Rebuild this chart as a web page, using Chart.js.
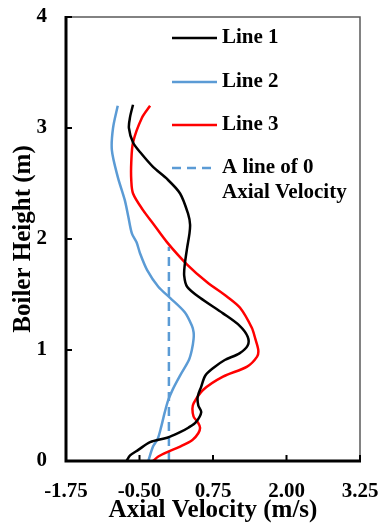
<!DOCTYPE html>
<html>
<head>
<meta charset="utf-8">
<script src="https://cdn.jsdelivr.net/npm/chart.js@4/dist/chart.umd.min.js"></script>
<style>
  html, body { margin: 0; padding: 0; background: #fff; }
</style>
</head>
<body>
<canvas id="velocityChart" width="378" height="527"></canvas>
<script>
// Axial velocity profiles along the boiler height
const xTicks = [-1.75, -0.5, 0.75, 2.0, 3.25];
const yTicks = [0, 1, 2, 3, 4];

const line1Height = [0.00, 0.05, 0.10, 0.17, 0.21, 0.26, 0.30, 0.35, 0.44, 0.50, 0.58, 0.67, 0.77, 0.84, 0.91, 0.97, 1.04, 1.12, 1.22, 1.33, 1.47, 1.57, 1.67, 1.77, 1.92, 2.05, 2.13, 2.22, 2.41, 2.55, 2.65, 2.77, 2.87, 3.00, 3.10, 3.21];
const line1Velocity = [-0.72, -0.66, -0.52, -0.32, -0.03, 0.19, 0.33, 0.46, 0.55, 0.50, 0.49, 0.55, 0.62, 0.76, 0.95, 1.20, 1.34, 1.34, 1.20, 0.92, 0.53, 0.31, 0.26, 0.27, 0.31, 0.35, 0.36, 0.33, 0.19, -0.05, -0.27, -0.47, -0.61, -0.68, -0.66, -0.61];

const line2Height = [0.00, 0.13, 0.20, 0.31, 0.44, 0.55, 0.65, 0.77, 0.91, 1.00, 1.10, 1.16, 1.22, 1.34, 1.47, 1.57, 1.72, 1.87, 1.97, 2.05, 2.20, 2.35, 2.56, 2.80, 3.00, 3.20];
const line2Velocity = [-0.35, -0.27, -0.19, -0.13, -0.07, -0.01, 0.07, 0.19, 0.34, 0.39, 0.42, 0.42, 0.39, 0.27, 0.02, -0.18, -0.37, -0.49, -0.55, -0.63, -0.69, -0.75, -0.87, -0.97, -0.95, -0.87];

const line3Height = [0.00, 0.04, 0.08, 0.13, 0.19, 0.25, 0.30, 0.35, 0.40, 0.47, 0.52, 0.64, 0.76, 0.85, 0.94, 1.00, 1.10, 1.20, 1.38, 1.48, 1.61, 1.77, 1.97, 2.14, 2.26, 2.41, 2.53, 2.69, 2.87, 3.09, 3.20];
const line3Velocity = [-0.27, -0.18, -0.03, 0.19, 0.40, 0.50, 0.53, 0.49, 0.42, 0.40, 0.42, 0.58, 0.92, 1.33, 1.50, 1.52, 1.47, 1.41, 1.21, 0.99, 0.65, 0.31, -0.03, -0.27, -0.44, -0.61, -0.64, -0.64, -0.61, -0.46, -0.32];

const zeroLineHeight = [0, 1.93];
const zeroLineVelocity = [0, 0];

const serif = "'Liberation Serif', 'Times New Roman', serif";
const toPoints = (xs, ys) => xs.map((x, i) => ({ x, y: ys[i] }));

// Legend drawn inside the plot area, labels may span two lines
const insideLegend = {
  id: 'insideLegend',
  afterDraw(chart) {
    const { ctx, chartArea } = chart;
    const rows = [21, 65, 108, 151];
    ctx.save();
    ctx.font = `bold 21px ${serif}`;
    ctx.fillStyle = '#000';
    ctx.textBaseline = 'middle';
    chart.data.datasets.forEach((ds, i) => {
      const y = chartArea.top + rows[i];
      const x0 = chartArea.left + 106;
      ctx.beginPath();
      ctx.strokeStyle = ds.borderColor;
      ctx.lineWidth = ds.borderWidth;
      ctx.setLineDash(ds.borderDash || []);
      ctx.moveTo(x0, y);
      ctx.lineTo(x0 + 45, y);
      ctx.stroke();
      ctx.setLineDash([]);
      [].concat(ds.label).forEach((text, k) => {
        ctx.fillText(text, x0 + 50, y + k * 25);
      });
    });
    ctx.restore();
  },
};

// Frame: heavy left/bottom axes, thin grey top/right, ticks pointing inward
const axisFrame = {
  id: 'axisFrame',
  afterDatasetsDraw(chart) {
    const { ctx, chartArea: a, scales } = chart;
    ctx.save();
    ctx.strokeStyle = '#595959';
    ctx.lineWidth = 1.5;
    ctx.beginPath();
    ctx.moveTo(a.left, a.top);
    ctx.lineTo(a.right, a.top);
    ctx.lineTo(a.right, a.bottom);
    ctx.stroke();

    ctx.strokeStyle = '#000';
    ctx.lineWidth = 3;
    ctx.beginPath();
    ctx.moveTo(a.left, a.top - 1);
    ctx.lineTo(a.left, a.bottom);
    ctx.lineTo(a.right + 1, a.bottom);
    ctx.stroke();

    ctx.lineWidth = 2;
    ctx.beginPath();
    xTicks.forEach((v) => {
      const px = scales.x.getPixelForValue(v);
      ctx.moveTo(px, a.bottom);
      ctx.lineTo(px, a.bottom - 6);
    });
    yTicks.forEach((v) => {
      const py = scales.y.getPixelForValue(v);
      ctx.moveTo(a.left, py);
      ctx.lineTo(a.left + 6, py);
    });
    ctx.stroke();
    ctx.restore();
  },
};

new Chart(document.querySelector('#velocityChart'), {
  type: 'scatter',
  data: {
    datasets: [
      { label: 'Line 1', data: toPoints(line1Velocity, line1Height), borderColor: '#000000', borderWidth: 2.5 },
      { label: 'Line 2', data: toPoints(line2Velocity, line2Height), borderColor: '#5b9bd5', borderWidth: 2.5 },
      { label: 'Line 3', data: toPoints(line3Velocity, line3Height), borderColor: '#ff0000', borderWidth: 2.5 },
      { label: ['A line of 0', 'Axial Velocity'], data: toPoints(zeroLineVelocity, zeroLineHeight), borderColor: '#5b9bd5', borderWidth: 2.5, borderDash: [9, 6], tension: 0 },
    ].map((ds) => ({ showLine: true, pointRadius: 0, tension: 0.3, fill: false, ...ds })),
  },
  options: {
    responsive: false,
    animation: false,
    layout: { padding: 0 },
    plugins: { legend: { display: false }, tooltip: { enabled: false } },
    scales: {
      x: {
        type: 'linear',
        min: -1.75,
        max: 3.25,
        afterBuildTicks: (scale) => { scale.ticks = xTicks.map((value) => ({ value })); },
        afterFit: (scale) => {
          scale.height = 66;
          scale.paddingLeft = 0;
          scale.paddingRight = 18;
        },
        grid: { display: false, drawTicks: false },
        border: { display: false },
        ticks: {
          color: '#000',
          padding: 18,
          maxRotation: 0,
          font: { family: serif, size: 21, weight: 'bold' },
          callback: (v) => Number(v).toFixed(2),
        },
        title: {
          display: true,
          text: 'Axial Velocity (m/s)',
          color: '#000',
          padding: { top: 0, bottom: 1 },
          font: { family: serif, size: 25, weight: 'bold' },
        },
      },
      y: {
        type: 'linear',
        min: 0,
        max: 4,
        afterBuildTicks: (scale) => { scale.ticks = yTicks.map((value) => ({ value })); },
        afterFit: (scale) => {
          scale.width = 66;
          scale.paddingTop = 17;
          scale.paddingBottom = 0;
        },
        grid: { display: false, drawTicks: false },
        border: { display: false },
        ticks: {
          color: '#000',
          padding: 19,
          font: { family: serif, size: 21, weight: 'bold' },
        },
        title: {
          display: true,
          text: 'Boiler Height (m)',
          color: '#000',
          padding: { top: 9, bottom: 0 },
          font: { family: serif, size: 25, weight: 'bold' },
        },
      },
    },
  },
  plugins: [axisFrame, insideLegend],
});
</script>
</body>
</html>
